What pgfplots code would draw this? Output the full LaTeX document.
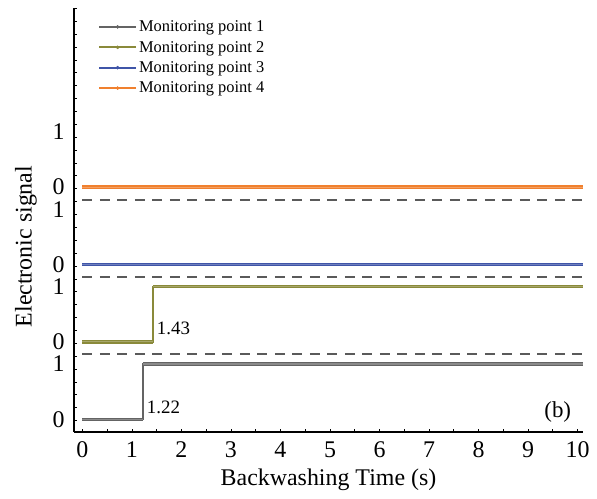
\documentclass[border=0pt]{standalone}
\usepackage{fontspec}
\setmainfont{Liberation Serif}
\usepackage{pgfplots}
\pgfplotsset{compat=1.18}
\usetikzlibrary{calc}
\definecolor{c1}{HTML}{646464}
\definecolor{c2}{HTML}{8A8A3A}
\definecolor{c3}{HTML}{3F55A8}
\definecolor{c4}{HTML}{F0802E}
\definecolor{dash}{HTML}{5A5A5A}
\tikzset{
  band/.style={draw=#1, double=#1!75!white, double distance=1.2bp, line width=1.1bp},
  thinl/.style={draw=#1, line width=1.6bp},
  dl/.style={draw=dash, line width=1.8bp, dash pattern=on 10bp off 7.5bp}
}
\begin{document}
\begin{tikzpicture}
\begin{axis}[
  scale only axis, width=509bp, height=424bp,
  xmin=-0.17, xmax=10.11, ymin=-0.23, ymax=7.44,
  axis lines*=left,
  axis line style={line width=1.2bp, black},
  xtick={0,...,10}, minor xtick={0,0.5,...,10},
  ytick={0,1,1.4,2.4,2.8,3.8,4.2,5.2}, yticklabels={0,1,0,1,0,1,0,1},
  minor ytick={-0.023,0.21,...,7.4},
  major tick length=0pt, minor tick length=3bp, tick align=inside,
  minor tick style={line width=0.7bp, black},
  /pgf/number format/assume math mode=true,
  tick label style={font=\fontsize{24}{28}\selectfont},
  xticklabel style={yshift=-6bp},
  yticklabel style={xshift=-6bp},
  xlabel={Backwashing Time (s)}, ylabel={Electronic signal},
  label style={font=\fontsize{24}{28}\selectfont},
  xlabel style={yshift=-4bp},
  ylabel style={at={(ticklabel cs:0.4375)}, yshift=9bp},
  clip=false,
  legend style={at={(rel axis cs:0.047,0.975)}, anchor=north west, draw=none, fill=none,
    font=\fontsize{16.5}{19}\selectfont, row sep=4bp, inner sep=0pt},
  legend cell align=left,
  legend image code/.code={\draw[line width=2bp] (0bp,0bp) -- (37bp,0bp); \fill (18.5bp,0bp) circle (1.6bp);},
]
\coordinate (bl) at (rel axis cs:0,0);
\addlegendimage{draw=c1, fill=c1}
\addlegendentry{Monitoring point 1}
\addlegendimage{draw=c2, fill=c2}
\addlegendentry{Monitoring point 2}
\addlegendimage{draw=c3, fill=c3}
\addlegendentry{Monitoring point 3}
\addlegendimage{draw=c4, fill=c4}
\addlegendentry{Monitoring point 4}
% dashed separators
\addplot[dl, forget plot] coordinates {(0,1.18) (10.1,1.18)};
\addplot[dl, forget plot] coordinates {(0,2.57) (10.1,2.57)};
\addplot[dl, forget plot] coordinates {(0,3.96) (10.1,3.96)};
% monitoring point 1
\addplot[thinl=c1, forget plot] coordinates {(0,0) (1.22,0) (1.22,1) (10.1,1)};
\addplot[band=c1, forget plot] coordinates {(0,0) (1.22,0)};
\addplot[band=c1, forget plot] coordinates {(1.22,1) (10.1,1)};
% monitoring point 2
\addplot[thinl=c2, forget plot] coordinates {(0,1.4) (1.43,1.4) (1.43,2.4) (10.1,2.4)};
\addplot[band=c2, forget plot] coordinates {(0,1.4) (1.43,1.4)};
\addplot[band=c2, forget plot] coordinates {(1.43,2.4) (10.1,2.4)};
% monitoring point 3
\addplot[band=c3, forget plot] coordinates {(0,2.8) (10.1,2.8)};
% monitoring point 4
\addplot[band=c4, forget plot] coordinates {(0,4.2) (10.1,4.2)};
\node[anchor=west, font=\fontsize{19}{22}\selectfont, inner sep=0pt] at (axis cs:1.3,0.22) {1.22};
\node[anchor=west, font=\fontsize{19}{22}\selectfont, inner sep=0pt] at (axis cs:1.5,1.65) {1.43};
\node[font=\fontsize{23}{26}\selectfont, inner sep=0pt] at (axis cs:9.6,0.13) {(b)};
\end{axis}
\pgfresetboundingbox
\path[use as bounding box] ($(bl)+(-74bp,-67bp)$) rectangle ($(bl)+(523bp,432bp)$);
\end{tikzpicture}
\end{document}
